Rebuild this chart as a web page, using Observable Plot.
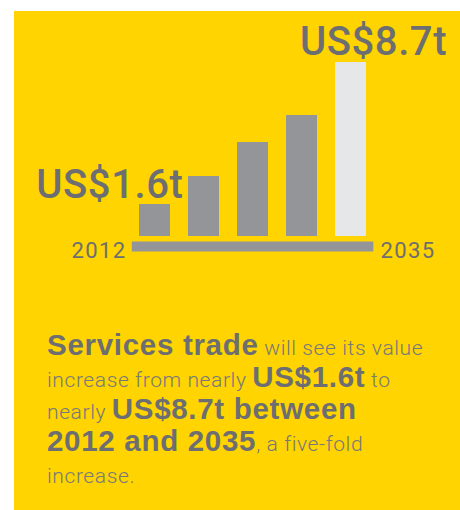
<!DOCTYPE html>
<html>
<head>
<meta charset="utf-8">
<script src="https://cdn.jsdelivr.net/npm/d3@7"></script>
<script src="https://cdn.jsdelivr.net/npm/@observablehq/plot@0.6"></script>
<style>
  html, body { margin: 0; padding: 0; background: #ffffff; }
  #card { position: absolute; left: 14px; top: 11px; width: 446px; height: 499px; background: #ffd400; overflow: hidden; }
  #chart svg { display: block; }
  #chart svg g[font-size="40"] text { letter-spacing: 0.6px; }
  #chart svg g[font-size="22"] text { letter-spacing: 1.4px; }
  #caption { position: absolute; left: 33px; top: 320.7px; width: 410px; font-family: Roboto, "Liberation Sans", Arial, sans-serif; font-weight: 300; color: #77787b; font-size: 21px; letter-spacing: 0.6px; }
  #caption .ln { height: 32px; line-height: 32px; white-space: nowrap; }
  #caption b { font-family: "Liberation Sans", Arial, sans-serif; font-size: 29.5px; line-height: 0; color: #6d6e71; font-weight: 700; letter-spacing: 0.7px; }
</style>
</head>
<body>
<div id="card">
  <div id="chart"></div>
  <div id="caption">
    <div class="ln"><b>Services trade</b> will see its value</div>
    <div class="ln">increase from nearly <b>US$1.6t</b> to</div>
    <div class="ln">nearly <b>US$8.7t between</b></div>
    <div class="ln"><b>2012 and 2035</b>, a five-fold</div>
    <div class="ln">increase.</div>
  </div>
</div>
<script>
const bars = ["b1", "b2", "b3", "b4", "b5"];
const values = [1.6, 3.0, 4.7, 6.05, 8.7];
const endLabels = ["2012", "2035"];
const valueLabels = ["US$1.6t", "US$8.7t"];

const data = bars.map((b, i) => ({bar: b, value: values[i], highlight: i === bars.length - 1}));
const first = bars[0], last = bars[bars.length - 1];

const chart = Plot.plot({
  width: 446,
  height: 270,
  marginLeft: 105.8,
  marginRight: 75.7,
  marginTop: 51,
  marginBottom: 45,
  style: {background: "transparent", overflow: "visible", fontFamily: "Roboto, 'Liberation Sans', Arial, sans-serif"},
  x: {domain: bars, padding: 0.37, axis: null},
  y: {domain: [0, values[values.length - 1]], axis: null},
  color: {domain: [false, true], range: ["#939598", "#e6e7e8"]},
  marks: [
    Plot.barY(data, {x: "bar", y: "value", fill: "highlight"}),
    Plot.ruleY([0], {stroke: "#939598", strokeWidth: 10, dy: 10, insetLeft: 12, insetRight: 11}),
    Plot.text([endLabels[0]], {x: () => first, y: () => 0, text: d => d, textAnchor: "end", lineAnchor: "bottom", dx: -28.5, dy: 21, fontSize: 22, fill: "#6d6e71"}),
    Plot.text([endLabels[1]], {x: () => last, y: () => 0, text: d => d, textAnchor: "start", lineAnchor: "bottom", dx: 29.5, dy: 21, fontSize: 22, fill: "#6d6e71"}),
    Plot.text([valueLabels[0]], {x: () => first, y: () => values[0], text: d => d, textAnchor: "end", lineAnchor: "bottom", dx: 28.5, dy: -7, fontSize: 40, fontWeight: 500, fill: "#6d6e71"}),
    Plot.text([valueLabels[1]], {x: () => last, y: () => values[values.length - 1], text: d => d, textAnchor: "middle", lineAnchor: "bottom", dx: 22.5, dy: -8, fontSize: 40, fontWeight: 500, fill: "#6d6e71"})
  ]
});
document.getElementById("chart").appendChild(chart);
</script>
</body>
</html>
